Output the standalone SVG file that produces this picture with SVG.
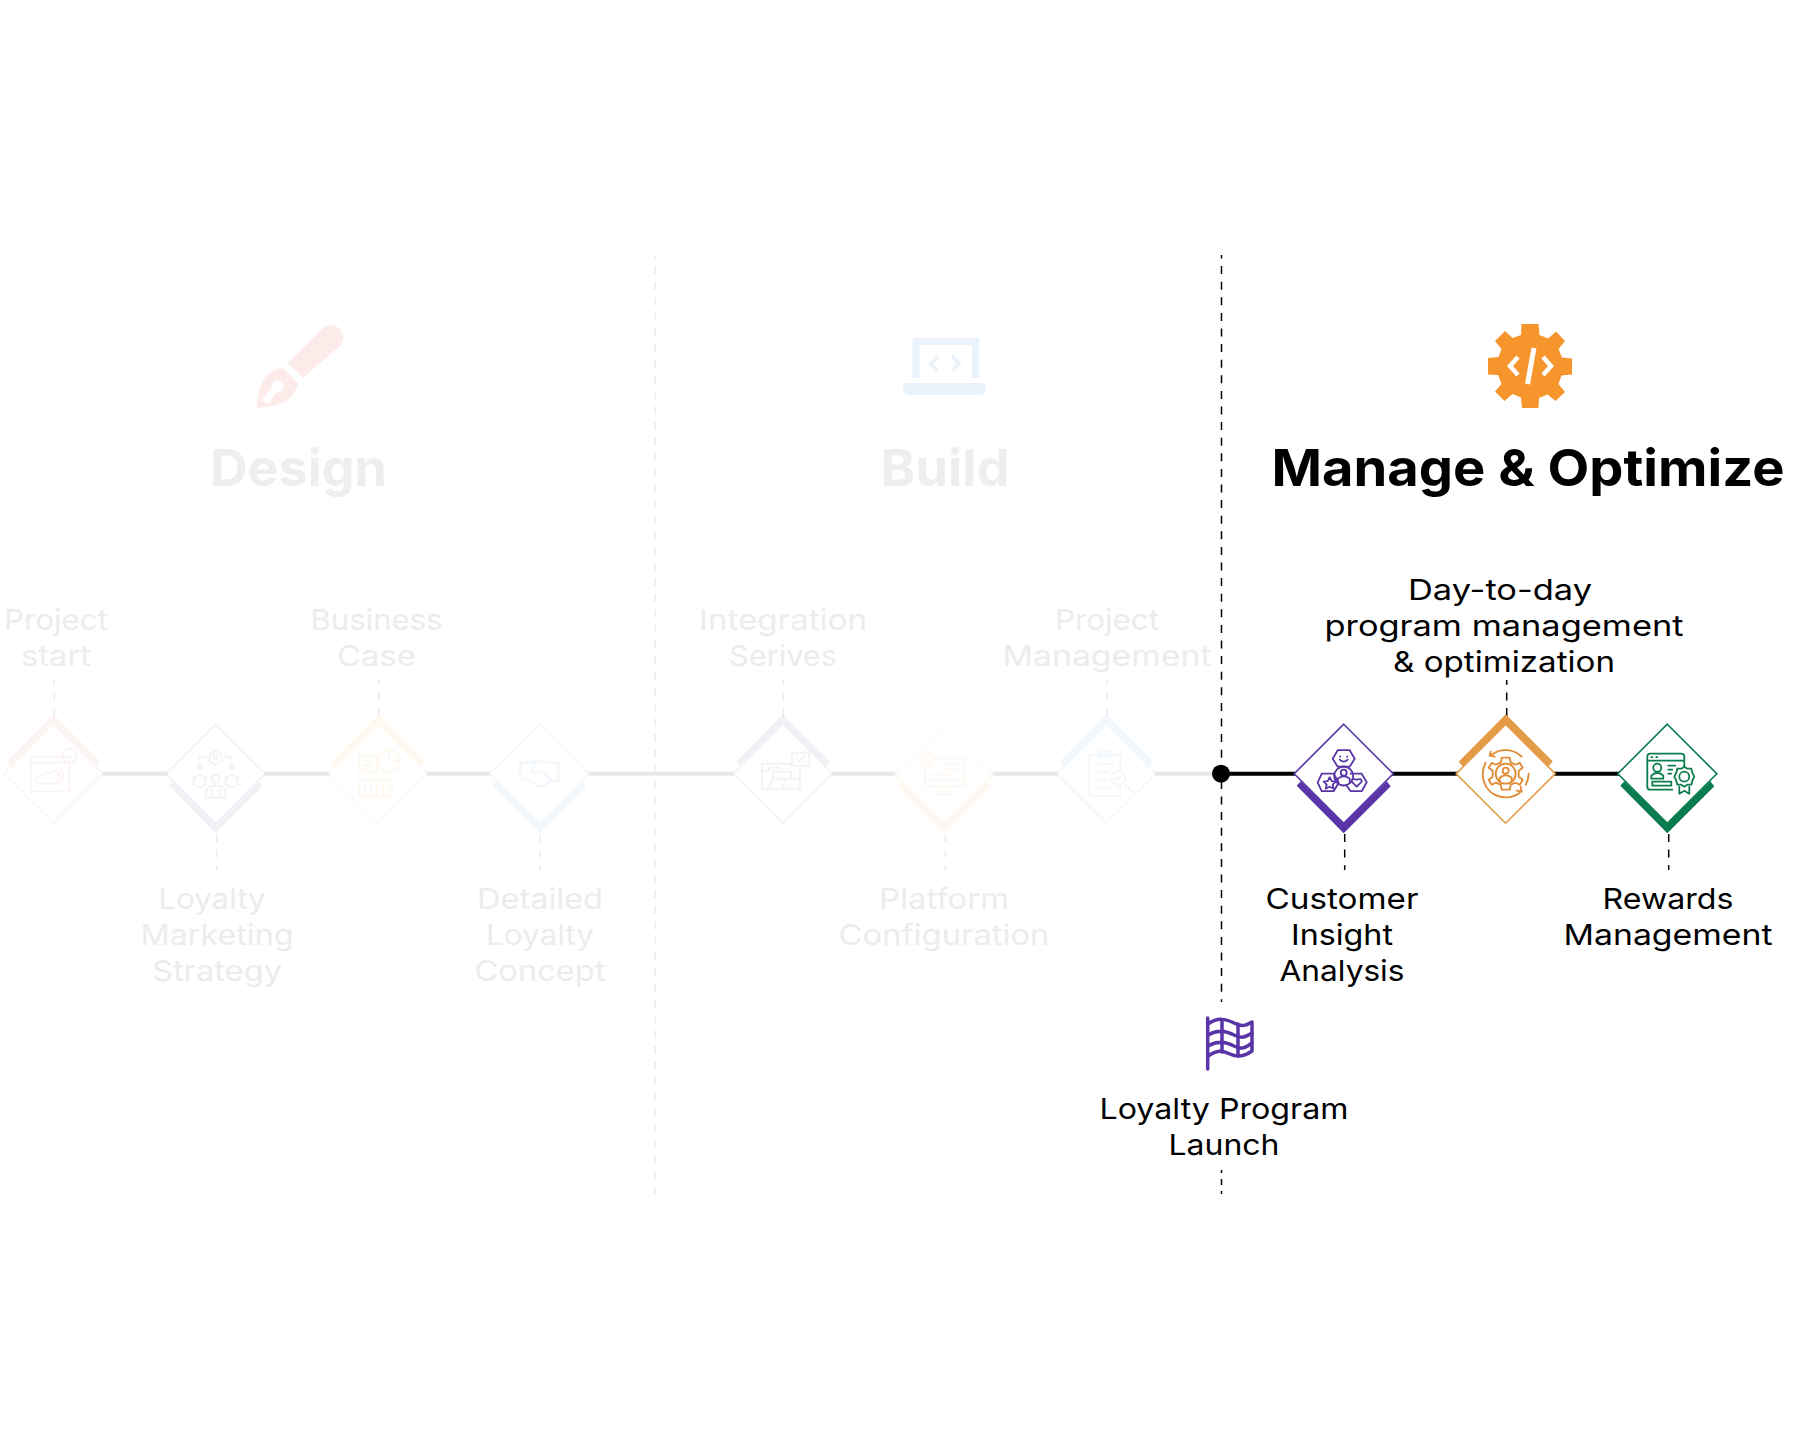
<svg xmlns="http://www.w3.org/2000/svg" width="1800" height="1448" viewBox="0 0 1800 1448">
<style>
text{font-family:"Inter","Noto Sans","Liberation Sans",sans-serif;text-anchor:middle}
.l{font-size:29px;font-weight:400;fill:#000}
.f{font-size:29px;font-weight:400;fill:#ececec}
.t{font-size:51px;font-weight:650;fill:#000}
.tf{font-size:51px;font-weight:650;fill:#eeeeee}
.dash{stroke:#000;stroke-width:1.5;stroke-dasharray:8 7.6;fill:none}
.dashf{stroke:#ebebeb;stroke-width:1.5;stroke-dasharray:8 7.6;fill:none}
.ic{fill:none;stroke-width:1.8;stroke:currentColor;stroke-linejoin:round;stroke-linecap:round}
.pale{opacity:.065;filter:url(#soft)}
</style>
<defs>
<filter id="soft" x="-10%" y="-10%" width="120%" height="120%"><feGaussianBlur stdDeviation=".6"/></filter>
<polygon id="under" points="0,-50 50,0 0,50 -50,0" fill="#fff"/>
<polygon id="dia" points="0,-49.5 49.5,0 0,49.5 -49.5,0" fill="#fff" stroke="currentColor" stroke-width="1.6"/>
<polygon id="chevB" points="-47,12 -43,7.500 0,49 43,7.500 47,12.500 0,59.500" fill="currentColor"/>
<polygon id="chevT" points="-47,-12 -43,-7.500 0,-49 43,-7.500 47,-12.500 0,-59.500" fill="currentColor"/>
</defs>
<rect width="1800" height="1448" fill="#fff"/>
<g id="connectors">
<line x1="103" y1="773.7" x2="1221" y2="773.7" stroke="#e8e8e8" stroke-width="4"/>
<line x1="1221" y1="773.7" x2="1620" y2="773.7" stroke="#000" stroke-width="4"/>
<line class="dashf" style="stroke-dashoffset:4.5" x1="655" y1="255" x2="655" y2="1194"/>
<line class="dash" style="stroke-dashoffset:4.5" x1="1221.5" y1="255" x2="1221.5" y2="1002"/>
<line class="dash" style="stroke-dasharray:6 6;stroke-dashoffset:3" x1="1221.5" y1="1170" x2="1221.5" y2="1194"/>
<line class="dashf" x1="54.3" y1="716" x2="54.3" y2="680"/>
<line class="dashf" x1="216.7" y1="834" x2="216.7" y2="870"/>
<line class="dashf" x1="378.7" y1="716" x2="378.7" y2="680"/>
<line class="dashf" x1="540.3" y1="834" x2="540.3" y2="870"/>
<line class="dashf" x1="783.3" y1="716" x2="783.3" y2="680"/>
<line class="dashf" x1="945.3" y1="834" x2="945.3" y2="870"/>
<line class="dashf" x1="1107.3" y1="716" x2="1107.3" y2="680"/>
<line class="dash" x1="1344.7" y1="834" x2="1344.7" y2="870"/>
<line class="dash" x1="1506.7" y1="716" x2="1506.7" y2="680"/>
<line class="dash" x1="1668.7" y1="834" x2="1668.7" y2="870"/>
<circle cx="1221" cy="773.7" r="9" fill="#000"/>
</g>
<g id="phase-design">
<g class="pale" style="opacity:.1">
<path d="M288 363L320 331Q330 321 339 328Q347 336 341 345L303 378Z" fill="#f0433a"/>
<path fill-rule="evenodd" d="M283 368L298 383Q296 394 285 402Q272 407 257 408Q257 390 266 376Q274 369 283 368ZM268 404L277 392A6 6 0 1 0 272 387L262 400Z" fill="#f0433a"/>
</g>
<text class="tf" x="298.5" y="486" textLength="177" lengthAdjust="spacingAndGlyphs">Design</text>
</g>
<g id="phase-build">
<g class="pale" style="opacity:.1" color="#3b8fe0">
<path d="M916 378V341.500H975.500V378" fill="none" stroke="currentColor" stroke-width="7"/>
<path d="M903 383H986V388Q986 395 980 395H909Q903 395 903 388Z" fill="currentColor"/>
<path d="M938 356L931 363.500L938 371M952 356L959 363.500L952 371" fill="none" stroke="currentColor" stroke-width="4"/>
</g>
<text class="tf" x="945" y="486" textLength="129" lengthAdjust="spacingAndGlyphs">Build</text>
</g>
<g id="phase-manage">
<g id="gear">
<path fill="#f7952d" d="M1521.500 324H1538.500L1539.500 335L1548 338.500L1556 331.500L1565 341L1558.500 349L1562 357.500L1572 358.500V374.500L1561.500 375.500L1558.500 384L1565 392L1555.500 401L1547.500 394.500L1539 398L1538.500 408H1522L1521 397.500L1512.500 394L1504.500 401L1495 391.500L1501.500 384L1498 375L1488 374.500V358L1498.500 357L1501.500 349L1495 341L1505 331L1512.500 338L1521 335Z"/>
<path d="M1518 357L1510 366L1518 375M1543 357L1551 366L1543 375" fill="none" stroke="#fff" stroke-width="4.500"/>
<path d="M1534 348L1527.500 384" fill="none" stroke="#fff" stroke-width="5"/>
</g>
<text class="t" x="1528" y="486" textLength="513" lengthAdjust="spacingAndGlyphs">Manage &amp; Optimize</text>
</g>
<g id="node-project-start">
<use href="#under" x="53.500" y="773.700"/>
<g class="pale" transform="translate(53.500,773.700)" color="#e05a5a">
<use href="#chevT"/><use href="#dia"/>
<g class="ic"><rect x="-23" y="-17" width="39" height="35"/><path d="M-23 -11H16M-17 3L4 -3Q8 4 4 10L-14 10Q-20 7 -17 3ZM8 -4Q11 2 8 8"/><path d="M16 -26L23 -22V-14L16 -10L9 -14V-22Z"/></g>
</g>
<text class="f" x="56" y="630" textLength="104" lengthAdjust="spacingAndGlyphs">Project</text>
<text class="f" x="56" y="666" textLength="70" lengthAdjust="spacingAndGlyphs">start</text>
</g>
<g id="node-strategy">
<use href="#under" x="215.700" y="773.700"/>
<g class="pale" transform="translate(215.700,773.700)" color="#3c4a78">
<use href="#chevB"/><use href="#dia"/>
<g class="ic"><path d="M0 -23L6 -19V-12L0 -9L-6 -12V-19Z"/><circle cx="0" cy="-16" r="2"/><path d="M-9 -17H-16V-5M-19 -8L-16 -4L-13 -8M9 -17H16V-5M13 -8L16 -4L19 -8"/><path d="M-16 1L-10 4V11L-16 14L-22 11V4ZM16 1L22 4V11L16 14L10 11V4Z"/><circle cx="0" cy="5" r="4"/><path d="M-10 24V18Q-8 12 0 12Q8 12 10 18V24ZM-4 16V24M4 16V24"/></g>
</g>
<text class="f" x="212" y="909" textLength="107" lengthAdjust="spacingAndGlyphs">Loyalty</text>
<text class="f" x="217" y="945" textLength="153" lengthAdjust="spacingAndGlyphs">Marketing</text>
<text class="f" x="217" y="981" textLength="130" lengthAdjust="spacingAndGlyphs">Strategy</text>
</g>
<g id="node-business-case">
<use href="#under" x="378" y="773.700"/>
<g class="pale" transform="translate(378,773.700)" color="#f7a13d">
<use href="#chevT"/><use href="#dia"/>
<g class="ic" style="stroke-width:2"><rect x="-19" y="-18" width="18" height="16"/><path d="M-15 -13H-6M-15 -9H-6M-15 -5H-8"/><circle cx="11" cy="-13" r="11"/><path d="M11 -13V-24M11 -13H22"/><rect x="-19" y="7" width="33" height="16"/><path d="M-13 23V13M-7 23V10M-1 23V13M5 23V10M11 23V13"/></g>
</g>
<text class="f" x="376.500" y="630" textLength="132" lengthAdjust="spacingAndGlyphs">Business</text>
<text class="f" x="376.500" y="666" textLength="79" lengthAdjust="spacingAndGlyphs">Case</text>
</g>
<g id="node-detailed-concept">
<use href="#under" x="539.300" y="773.700"/>
<g class="pale" transform="translate(539.300,773.700)" color="#4a90d9">
<use href="#chevB"/><use href="#dia"/>
<g class="ic" style="stroke-width:2.200"><path d="M-19 -11H-11L-3 -12H6L11 -11H19V7H12L4 12Q-1 13 -4 11L-11 6H-19ZM-3 -12L-8 -2Q-3 2 2 -3L11 6"/></g>
</g>
<text class="f" x="540" y="909" textLength="126" lengthAdjust="spacingAndGlyphs">Detailed</text>
<text class="f" x="540" y="945" textLength="108" lengthAdjust="spacingAndGlyphs">Loyalty</text>
<text class="f" x="540" y="981" textLength="131" lengthAdjust="spacingAndGlyphs">Concept</text>
</g>
<g id="node-integration">
<use href="#under" x="783" y="773.700"/>
<g class="pale" transform="translate(783,773.700)" color="#3c4a78">
<use href="#chevT"/><use href="#dia"/>
<g class="ic"><path d="M9 -10H-21V15H17V-6"/><rect x="9" y="-21" width="17" height="13"/><path d="M13 -15L16 -12L22 -18"/><path d="M-21 -3H-14V-6H-4M-10 -2H8V5H-10ZM-10 5L-14 15M8 5H17M2 5L0 15"/></g>
</g>
<text class="f" x="783" y="630" textLength="168" lengthAdjust="spacingAndGlyphs">Integration</text>
<text class="f" x="783" y="666" textLength="108" lengthAdjust="spacingAndGlyphs">Serives</text>
</g>
<g id="node-platform">
<use href="#under" x="944" y="773.700"/>
<g class="pale" transform="translate(944,773.700)" color="#f7a13d">
<use href="#chevB"/><use href="#dia"/>
<g class="ic"><rect x="-19" y="-15" width="39" height="28"/><path d="M-19 6H20M-3 13V19M3 13V19M-8 21H8M-12 1H-6M-2 1H8M-4 -9H14M2 -4H14"/><circle cx="-17" cy="-14" r="7" fill="#fff"/><circle cx="-17" cy="-14" r="3"/></g>
</g>
<text class="f" x="944" y="909" textLength="130" lengthAdjust="spacingAndGlyphs">Platform</text>
<text class="f" x="944" y="945" textLength="211" lengthAdjust="spacingAndGlyphs">Configuration</text>
</g>
<g id="node-project-management">
<use href="#under" x="1106.300" y="773.700"/>
<g class="pale" transform="translate(1106.300,773.700)" color="#4a90d9">
<use href="#chevT"/><use href="#dia"/>
<g class="ic"><rect x="-17" y="-19" width="31" height="41"/><path d="M-7 -22H4V-17H-7ZM-12 -10H-8M-4 -10H6M-12 -2H-8M-4 -2H2M-12 6H-8M-4 6H2M-12 14H-8M-4 14H2"/><circle cx="12" cy="4" r="7" fill="#fff"/><path d="M9 4L11 6L15 2M17 9L27 19"/></g>
</g>
<text class="f" x="1107" y="630" textLength="104" lengthAdjust="spacingAndGlyphs">Project</text>
<text class="f" x="1107" y="666" textLength="209" lengthAdjust="spacingAndGlyphs">Management</text>
</g>
<g id="node-customer-insight" color="#5a35a8">
<g transform="translate(1343.700,773.700)">
<use href="#chevB"/><use href="#dia"/>
<g class="ic"><path d="M-6 -23.500H6L11 -15L6 -7H-6L-11 -15Z"/><path d="M-3.500 -17V-17.200M3.500 -17V-17.200M-4 -14Q0 -10 4 -14"/><path d="M-22 0H-10L-5 9L-10 17.500H-22L-26 9Z"/><path d="M-14 3.500L-12 7.500L-8 8L-11 11L-10 15L-14 13L-18 15L-17 11L-20 8L-16 7.500Z"/><path d="M7 0H18L23 8.500L18 17.500H7L3 12"/><path d="M13 13L8 8Q8 4 13 6Q18 4 18 8Z"/><circle cx="0" cy="2.300" r="9.500"/><circle cx="0" cy="-1" r="3"/><path d="M-6 9V5Q0 0 6 5V9"/></g>
</g>
<text class="l" x="1342" y="909" textLength="153" lengthAdjust="spacingAndGlyphs">Customer</text>
<text class="l" x="1342" y="945" textLength="102" lengthAdjust="spacingAndGlyphs">Insight</text>
<text class="l" x="1342" y="981" textLength="125" lengthAdjust="spacingAndGlyphs">Analysis</text>
</g>
<g id="node-day-to-day" color="#e59a45">
<g transform="translate(1505.700,773.700)">
<use href="#chevT"/><use href="#dia"/>
<g class="ic" style="stroke:#df8a35"><path d="M-14 -19A23 23 0 0 1 16 -17M-15 -22L-16 -18L-11 -17M14 19A23 23 0 0 1 -23 0A23 23 0 0 1 -20 -11M23 0A23 23 0 0 1 20 11M11 17L16 18L15 13"/><path d="M-4 -16H4L5 -11L10 -9L14 -11L17 -6L13 -3V3L17 6L14 11L10 9L5 11L4 16H-4L-5 11L-10 9L-14 11L-17 6L-13 3V-3L-17 -6L-14 -11L-10 -9L-5 -11Z"/><circle cx="0" cy="0" r="10"/><circle cx="0" cy="-3" r="3"/><path d="M-6 7V4Q0 -1 6 4V7"/></g>
</g>
<text class="l" x="1500" y="600" textLength="184" lengthAdjust="spacingAndGlyphs">Day-to-day</text>
<text class="l" x="1504" y="636" textLength="359" lengthAdjust="spacingAndGlyphs">program management</text>
<text class="l" x="1504" y="672" textLength="222" lengthAdjust="spacingAndGlyphs">&amp; optimization</text>
</g>
<g id="node-rewards" color="#0b7c4e">
<g transform="translate(1667.300,773.700)">
<use href="#chevB"/><use href="#dia"/>
<g class="ic"><path d="M-20 -17Q-20 -20 -17 -20H14Q17 -20 17 -17V-7M5 16H-17Q-20 16 -20 13V-17M-20 -13H17M-16 -16.500H-15M-11 -16.500H-10"/><circle cx="-10" cy="-6" r="4"/><path d="M-16 5V2Q-10 -4 -4 2V5Z"/><rect x="-15" y="8" width="19" height="4"/><path d="M1 -8H8M1 -4H5M1 0H4"/><circle cx="17" cy="3" r="5"/><path d="M17 -7L20 -5L24 -5L25 -1L27 3L25 7L24 11L20 11L17 13L14 11L10 11L9 7L7 3L9 -1L10 -5L14 -5Z"/><path d="M12 13V20L17 17L22 20V13"/></g>
</g>
<text class="l" x="1668" y="909" textLength="131" lengthAdjust="spacingAndGlyphs">Rewards</text>
<text class="l" x="1668" y="945" textLength="209" lengthAdjust="spacingAndGlyphs">Management</text>
</g>
<g id="node-launch" color="#5a35a8">
<g class="ic" style="stroke-width:3.500">
<path d="M1207.700 1018V1069"/>
<path d="M1208 1024C1218 1017 1226 1019 1234 1023S1245 1026 1252 1022V1051C1245 1056 1238 1058 1230 1054S1217 1050 1208 1056"/>
<path d="M1208 1035C1218 1029 1226 1031 1234 1035S1245 1037 1252 1033M1208 1046C1218 1040 1226 1042 1234 1046S1245 1048 1252 1043M1222 1021V1052M1238 1024V1056"/>
</g>
<text class="l" x="1224" y="1119" textLength="249" lengthAdjust="spacingAndGlyphs">Loyalty Program</text>
<text class="l" x="1224" y="1155" textLength="111" lengthAdjust="spacingAndGlyphs">Launch</text>
</g>
</svg>
